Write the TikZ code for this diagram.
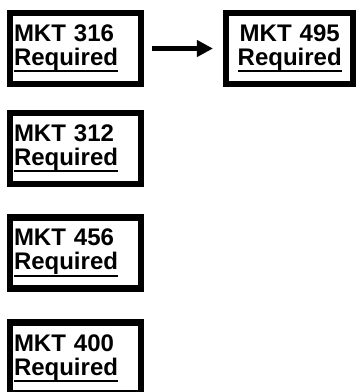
\documentclass[tikz,border=0pt]{standalone}
\usepackage{xcolor}
\usepackage{fontspec}
\setmainfont{Liberation Sans}
\usepackage{tikz}
\usetikzlibrary{arrows.meta, positioning}
\definecolor{inkblack}{HTML}{000000}
\newcommand{\reqline}[1]{\leavevmode\setbox0\hbox{#1}\rlap{\rule[-7pt]{\wd0}{2pt}}\box0}

\begin{document}
\begin{tikzpicture}[x=1pt, y=1pt,
  course/.style={draw=inkblack, line width=6.5pt, rectangle, minimum width=131pt, minimum height=71pt,
    inner xsep=4pt, inner ysep=0pt, text width=123pt, align=left,
    font=\fontsize{24}{24}\selectfont\bfseries},
  link/.style={-{Triangle[length=16pt, width=16pt]}, inkblack, line width=5pt}]
  % Page frame
  \clip (0,0) rectangle (357,-392);
  \fill[white] (0,0) rectangle (357,-392);

  % Top row
  \node[course] (mkt316) at (75.5,-48.5) {MKT 316\\\reqline{Required}};
  \node[course, minimum width=127pt, text width=119pt, align=center] (mkt495) at (289.7,-48.5) {MKT 495\\\reqline{Required}};
  \draw[link, shorten <=7.5pt, shorten >=10pt] (mkt316.east) -- (mkt495.west);

  % Left column
  \node[course] (mkt312) at (75.5,-148.3) {MKT 312\\\reqline{Required}};
  \node[course] (mkt456) at (75.5,-253) {MKT 456\\\reqline{Required}};
  \node[course] (mkt400) at (75.5,-358.2) {MKT 400\\\reqline{Required}};
\end{tikzpicture}
\end{document}
